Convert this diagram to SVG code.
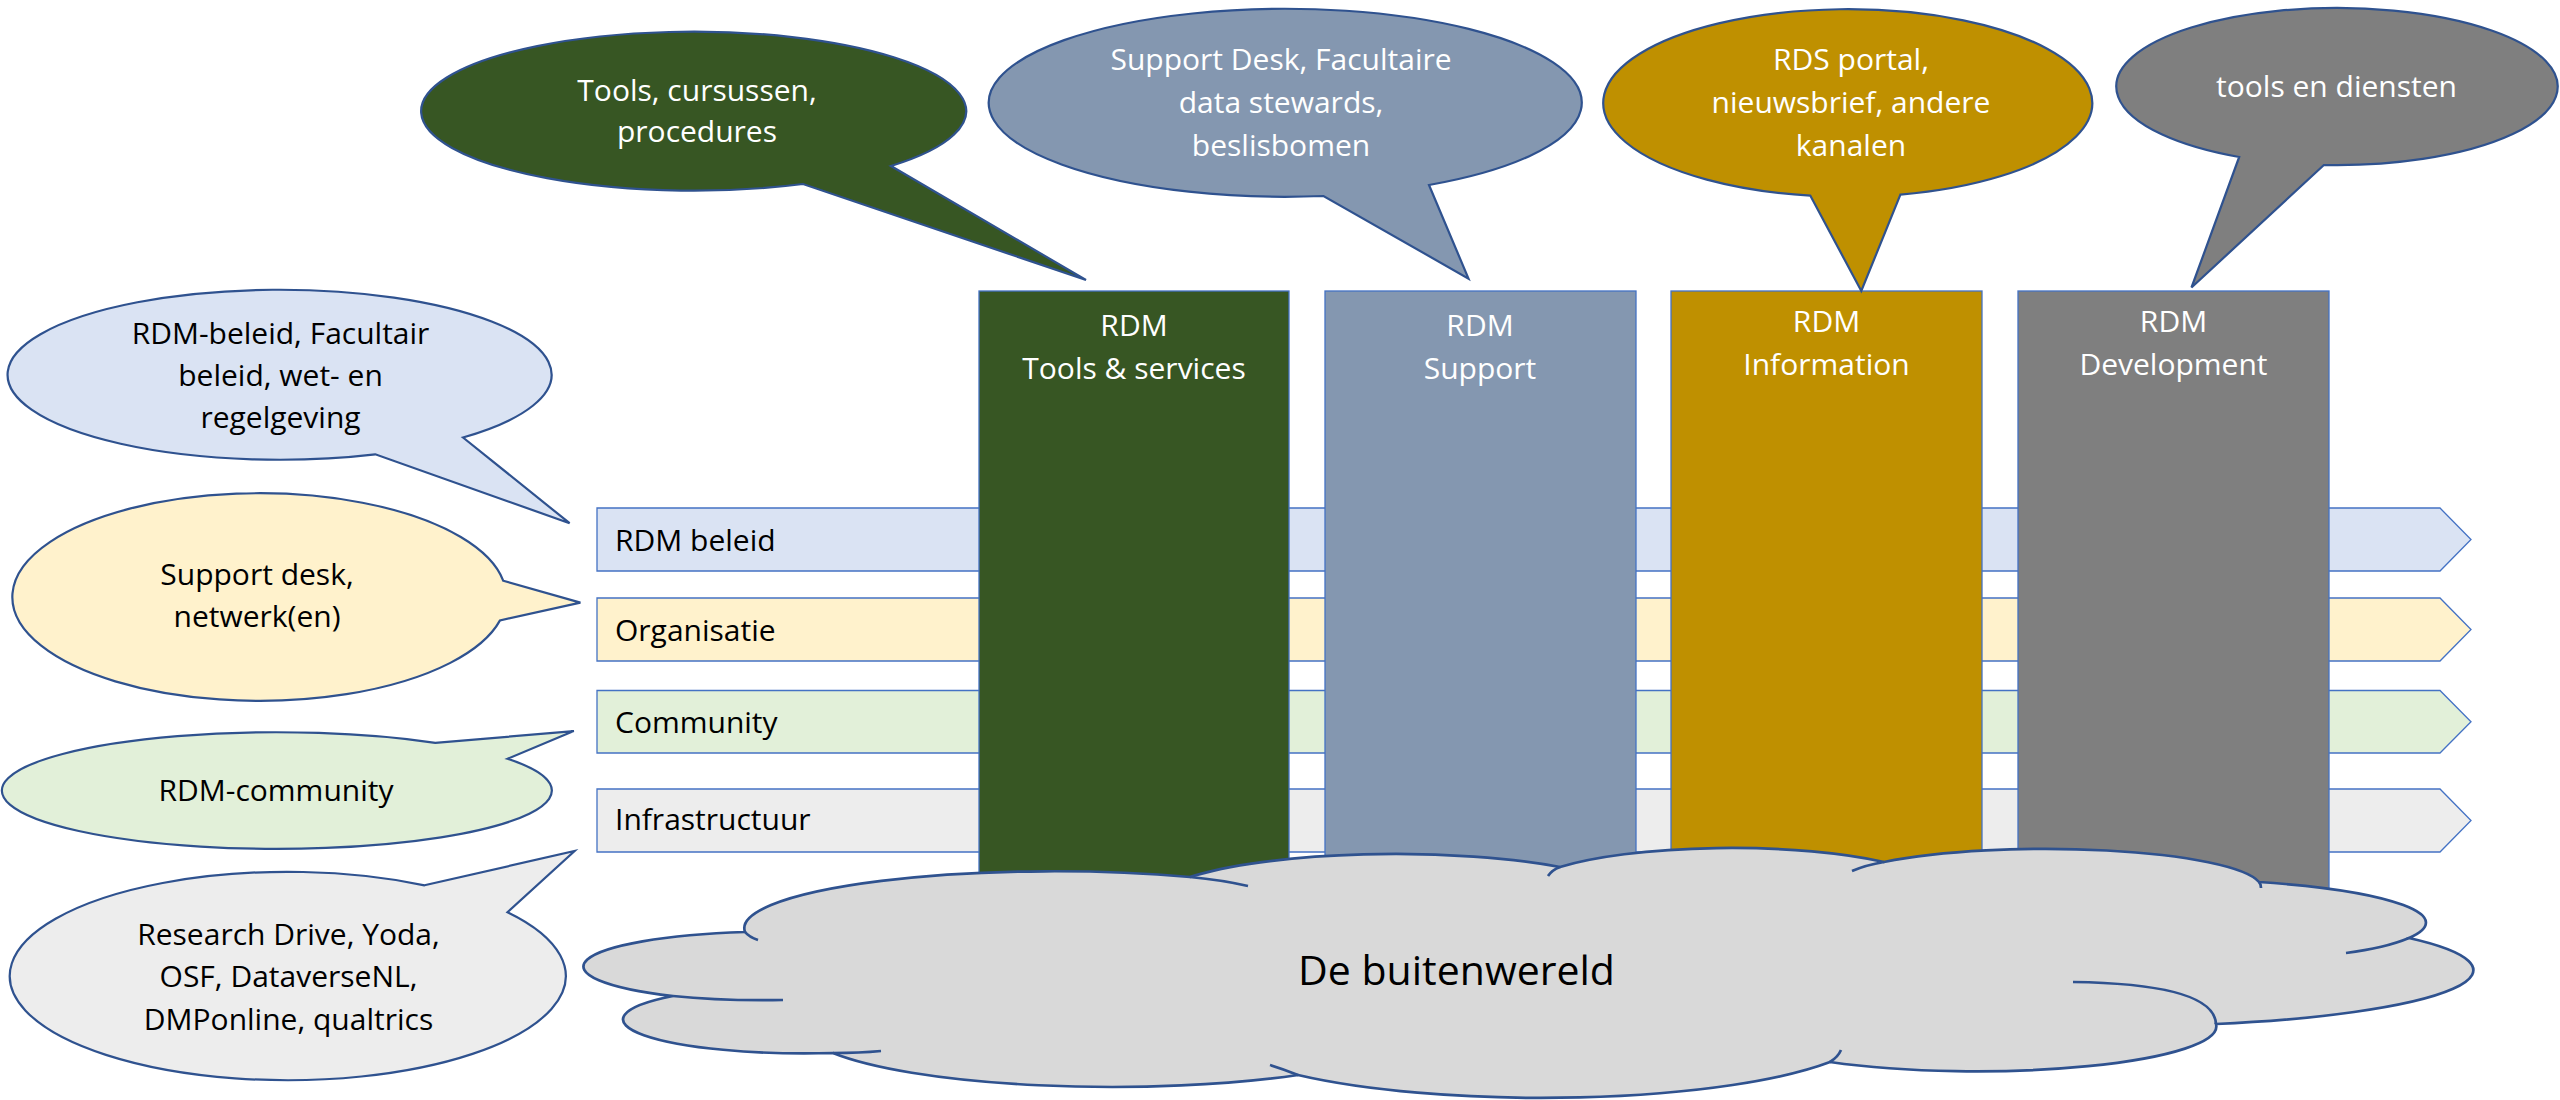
<svg xmlns="http://www.w3.org/2000/svg" width="2560" height="1100" viewBox="0 0 2560 1100">
<style>
text{font-family:"Open Sans","Noto Sans","Liberation Sans",sans-serif;font-size:30px}
.w{fill:#fff}.k{fill:#000}.m{text-anchor:middle}
.bar{stroke:#4472C4;stroke-width:1.3}
.col{stroke:#4472C4;stroke-width:1.3}
.co{stroke:#2F528F;stroke-width:2.2;stroke-linejoin:miter}
.cl{fill:#D9D9D9;stroke:#2F528F;stroke-width:2.7}
.hk{fill:none;stroke:#2F528F;stroke-width:2.7}
</style>
<rect width="2560" height="1100" fill="#fff"/>
<g id="lanes">
<g id="lane-beleid"><polygon class="bar" fill="#DAE3F3" points="597,508 2440,508 2471,539.5 2440,571 597,571"/><text class="k" x="615" y="550.5">RDM beleid</text></g>
<g id="lane-organisatie"><polygon class="bar" fill="#FFF2CC" points="597,598 2440,598 2471,629.5 2440,661 597,661"/><text class="k" x="615" y="640.5">Organisatie</text></g>
<g id="lane-community"><polygon class="bar" fill="#E2F0D9" points="597,690.5 2440,690.5 2471,721.7 2440,753 597,753"/><text class="k" x="615" y="733">Community</text></g>
<g id="lane-infra"><polygon class="bar" fill="#EDEDED" points="597,789 2440,789 2471,820.5 2440,852 597,852"/><text class="k" x="615" y="830">Infrastructuur</text></g>
</g>
<g id="columns">
<g id="col-tools"><rect class="col" x="979" y="291" width="310" height="650" fill="#375623"/><text class="w m" x="1134" y="336">RDM</text><text class="w m" x="1134" y="379">Tools &amp; services</text></g>
<g id="col-support"><rect class="col" x="1325" y="291" width="311" height="650" fill="#8497B0"/><text class="w m" x="1480" y="336">RDM</text><text class="w m" x="1480" y="379">Support</text></g>
<g id="col-information"><rect class="col" x="1671" y="291" width="311" height="650" fill="#BF9000"/><text class="w m" x="1826.5" y="332">RDM</text><text class="w m" x="1826.5" y="375">Information</text></g>
<g id="col-development"><rect class="col" x="2018" y="291" width="311" height="650" fill="#7F7F7F"/><text class="w m" x="2173.5" y="332">RDM</text><text class="w m" x="2173.5" y="375">Development</text></g>
</g>
<g id="callouts">
<g id="callout-tools"><path class="co" fill="#375623" d="M891,166 L1086,280 L803,184 A272.5,79.5 0 1 1 891,166 Z"/><text class="w m" x="697" y="101">Tools, cursussen,</text><text class="w m" x="697" y="142">procedures</text></g>
<g id="callout-support"><path class="co" fill="#8497B0" d="M1429,185 L1468.5,278.6 L1323.5,196 A296.5,94 0 1 1 1429,185 Z"/><text class="w m" x="1281" y="70">Support Desk, Facultaire</text><text class="w m" x="1281" y="113">data stewards,</text><text class="w m" x="1281" y="156">beslisbomen</text></g>
<g id="callout-information"><path class="co" fill="#BF9000" d="M1900.4,194.6 L1861.3,291 L1810.4,195.7 A244.5,93.8 0 1 1 1900.4,194.6 Z"/><text class="w m" x="1851" y="70">RDS portal,</text><text class="w m" x="1851" y="113">nieuwsbrief, andere</text><text class="w m" x="1851" y="156">kanalen</text></g>
<g id="callout-development"><path class="co" fill="#7F7F7F" d="M2323.9,165 L2191.5,287.5 L2239.2,157 A220.7,78.6 0 1 1 2323.9,165 Z"/><text class="w m" x="2336.5" y="97">tools en diensten</text></g>
<g id="callout-beleid"><path class="co" fill="#DAE3F3" d="M463,437.5 L569.6,523.2 L375.3,454.3 A272,85 0 1 1 463,437.5 Z"/><text class="k m" x="280.5" y="344">RDM-beleid, Facultair</text><text class="k m" x="280.5" y="386">beleid, wet- en</text><text class="k m" x="280.5" y="428">regelgeving</text></g>
<g id="callout-organisatie"><path class="co" fill="#FFF2CC" d="M503.3,580.8 L580.4,602.6 L500,620.4 A247,103.8 0 1 1 503.3,580.8 Z"/><text class="k m" x="257" y="585">Support desk,</text><text class="k m" x="257" y="626.5">netwerk(en)</text></g>
<g id="callout-community"><path class="co" fill="#E2F0D9" d="M435.3,742.9 L573.8,731.1 L507.5,758.8 A275,58.3 0 1 1 435.3,742.9 Z"/><text class="k m" x="276" y="800.5">RDM-community</text></g>
<g id="callout-infra"><path class="co" fill="#EDEDED" d="M424.5,885.3 L574.6,851 L507.5,912.2 A278,104.2 0 1 1 424.5,885.3 Z"/><text class="k m" x="288.5" y="944.6">Research Drive, Yoda,</text><text class="k m" x="288.5" y="987.3">OSF, DataverseNL,</text><text class="k m" x="288.5" y="1029.6">DMPonline, qualtrics</text></g>
</g>
<g id="cloud-buitenwereld">
<path class="cl" d="M745,932 A310,57 0 0 1 1190,877 A244,50 0 0 1 1560,867 A210,45 0 0 1 1884,862 A216,39 0 0 1 2259,882 A270,44 0 0 1 2409,938 A355,56 0 0 1 2216,1024 A240,45 0 0 1 1830,1062 A330,70 0 0 1 1298,1075 A310,60 0 0 1 833,1053 A182,34 0 0 1 673,996 A194,35 0 0 1 745,932 Z"/>
<path class="hk" d="M745,932 Q749,937 758,940 M673,996 Q720,1001 783,1000 M833,1053 Q860,1053 881,1051 M1298,1075 Q1283,1069 1270,1065 M1830,1062 Q1838,1057 1841,1050 M2216,1024 Q2214,984 2073,982 M2409,938 Q2385,948 2346,953 M2259,882 Q2261,884 2261,888 M1884,862 Q1866,865 1852,871 M1560,867 Q1552,870 1548,876 M1190,877 Q1222,880 1248,886"/>
<text class="k m" x="1456.5" y="985" style="font-size:41px">De buitenwereld</text>
</g>
<g id="connectors"/>
</svg>
